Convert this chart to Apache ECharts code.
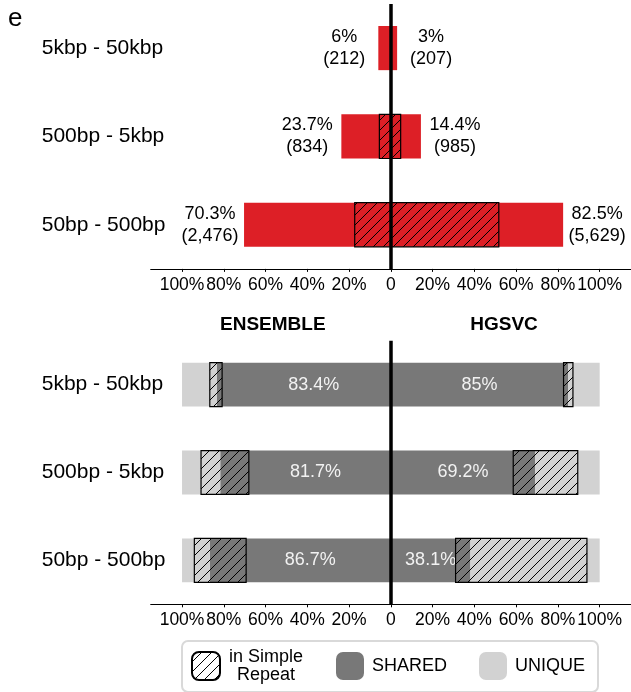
<!DOCTYPE html>
<html>
<head>
<meta charset="utf-8">
<script src="https://cdn.jsdelivr.net/npm/echarts@6/dist/echarts.min.js"></script>
<style>
  html, body { margin: 0; padding: 0; background: #fff; }
  #main { width: 631px; height: 692px; }
</style>
</head>
<body>
<div id="main"></div>
<script>
// data
var categories = ['5kbp - 50kbp', '500bp - 5kbp', '50bp - 500bp'];

// top panel: share of each size class, with counts
var ensemblePct = [6, 23.7, 70.3];
var ensembleCount = [212, 834, 2476];
var hgsvcPct = [3, 14.4, 82.5];
var hgsvcCount = [207, 985, 5629];
// part of each bar that falls in simple repeats
var ensembleRepeat = [0, 5.5, 17.3];
var hgsvcRepeat = [0, 4.7, 51.7];

// bottom panel: shared / unique, and the simple-repeat part either side of the split
var ensembleShared = [83.4, 81.7, 86.7];
var hgsvcShared = [85, 69.2, 38.1];
var ensembleRepShared = [2.6, 13.7, 17.4];
var ensembleRepUnique = [3.3, 9.2, 7.4];
var hgsvcRepShared = [2.3, 10.6, 7.1];
var hgsvcRepUnique = [2.2, 20.3, 55.8];

var tickValues = [-100, -80, -60, -40, -20, 0, 20, 40, 60, 80, 100];

var RED = '#dd1f26';
var DARK = '#787878';
var LIGHT = '#d2d2d2';
var FONT = 'Liberation Sans';

// hatch pattern ( / lines )
function makeHatch() {
    var c = document.createElement('canvas');
    c.width = 10; c.height = 10;
    var g = c.getContext('2d');
    g.strokeStyle = '#000';
    g.lineWidth = 1;
    g.beginPath();
    g.moveTo(0, 10); g.lineTo(10, 0);
    g.moveTo(-1, 1); g.lineTo(1, -1);
    g.moveTo(9, 11); g.lineTo(11, 9);
    g.stroke();
    return c;
}
var hatch = { image: makeHatch(), repeat: 'repeat' };

var chart = echarts.init(document.getElementById('main'));

function fmtNum(n) { return n.toLocaleString('en-US'); }

function xAxisCfg(gridIndex) {
    return {
        type: 'value', gridIndex: gridIndex, min: -115, max: 115,
        axisLine: { show: true, onZero: false, lineStyle: { color: '#000', width: 1 } },
        axisTick: { show: true, customValues: tickValues, length: 3, lineStyle: { color: '#000' } },
        axisLabel: {
            customValues: tickValues, margin: 7, fontSize: 17.5, color: '#000', fontFamily: FONT,
            formatter: function (v) { return v === 0 ? '0' : Math.abs(v) + '%'; }
        },
        splitLine: { show: false }
    };
}
function yAxisCfg(gridIndex) {
    return {
        type: 'category', gridIndex: gridIndex, data: categories, inverse: true,
        axisLine: { show: false }, axisTick: { show: false },
        axisLabel: { align: 'left', margin: 109, fontSize: 21, color: '#000', fontFamily: FONT }
    };
}

function hatchItem(params, api) {
    var y = api.value(0);
    var a = api.coord([api.value(1), y]);
    var b = api.coord([api.value(2), y]);
    var h = api.size([0, 1])[1] * 0.5;
    if (Math.abs(b[0] - a[0]) < 0.5) return;
    return {
        type: 'rect',
        shape: { x: Math.min(a[0], b[0]), y: a[1] - h / 2, width: Math.abs(b[0] - a[0]), height: h },
        style: { fill: hatch, stroke: '#000', lineWidth: 1.2 }
    };
}

var centerLine = {
    silent: true, symbol: 'none', label: { show: false },
    lineStyle: { color: '#000', width: 3.5, type: 'solid' },
    data: [{ xAxis: 0 }]
};

var topHatch = categories.map(function (c, i) { return [i, -ensembleRepeat[i], hgsvcRepeat[i]]; });
var botHatch = [];
categories.forEach(function (c, i) {
    botHatch.push([i, -(ensembleShared[i] + ensembleRepUnique[i]), -(ensembleShared[i] - ensembleRepShared[i])]);
    botHatch.push([i, hgsvcShared[i] - hgsvcRepShared[i], hgsvcShared[i] + hgsvcRepUnique[i]]);
});

var redLabelRich = { a: { width: 64, align: 'center', fontSize: 18, lineHeight: 22, color: '#000', fontFamily: FONT } };

var option = {
    animation: false,
    textStyle: { fontFamily: FONT },
    grid: [
        { left: 150.7, right: 0, top: 3.9, height: 265 },
        { left: 150.7, right: 0, top: 340.7, height: 263.6 }
    ],
    xAxis: [xAxisCfg(0), xAxisCfg(1)],
    yAxis: [yAxisCfg(0), yAxisCfg(1)],
    legend: {
        data: ['in Simple Repeat', 'SHARED', 'UNIQUE'],
        selectedMode: false,
        left: 182, top: 641,
        orient: 'horizontal',
        icon: 'roundRect',
        itemWidth: 28, itemHeight: 28, itemGap: 32,
        padding: [7, 13, 8, 9],
        borderColor: '#d9d9d9', borderWidth: 2, borderRadius: 6,
        textStyle: {
            fontSize: 18, color: '#000', fontFamily: FONT, padding: [0, 0, 0, 3],
            rich: { c: { width: 76, align: 'center', fontSize: 18, lineHeight: 18, color: '#000', fontFamily: FONT } }
        },
        formatter: function (name) {
            return name === 'in Simple Repeat' ? '{c|in Simple}\n{c|Repeat}' : name;
        }
    },
    graphic: [
        { type: 'text', x: 8, y: 6, style: { text: 'e', font: '26px "Liberation Sans"', fill: '#000' } },
        { type: 'text', x: 272.8, y: 315, style: { text: 'ENSEMBLE', textAlign: 'center', font: 'bold 19px "Liberation Sans"', fill: '#000' } },
        { type: 'text', x: 504, y: 315, style: { text: 'HGSVC', textAlign: 'center', font: 'bold 19px "Liberation Sans"', fill: '#000' } }
    ],
    series: [
        {
            name: 'ENSEMBLE', type: 'bar', xAxisIndex: 0, yAxisIndex: 0, stack: 'top', barWidth: '50%',
            data: ensemblePct.map(function (v) { return -v; }),
            itemStyle: { color: RED },
            label: {
                show: true, position: 'left', distance: 2, rich: redLabelRich,
                formatter: function (p) {
                    return '{a|' + ensemblePct[p.dataIndex] + '%}\n{a|(' + fmtNum(ensembleCount[p.dataIndex]) + ')}';
                }
            }
        },
        {
            name: 'HGSVC', type: 'bar', xAxisIndex: 0, yAxisIndex: 0, stack: 'top', barWidth: '50%',
            data: hgsvcPct,
            itemStyle: { color: RED },
            label: {
                show: true, position: 'right', distance: 2, rich: redLabelRich,
                formatter: function (p) {
                    return '{a|' + hgsvcPct[p.dataIndex] + '%}\n{a|(' + fmtNum(hgsvcCount[p.dataIndex]) + ')}';
                }
            }
        },
        {
            name: 'in Simple Repeat', type: 'custom', xAxisIndex: 0, yAxisIndex: 0, z: 3,
            data: topHatch, encode: { x: [1, 2], y: 0 },
            itemStyle: { color: hatch, borderColor: '#000', borderWidth: 1 },
            renderItem: hatchItem,
            markLine: centerLine
        },
        {
            name: 'SHARED', type: 'bar', xAxisIndex: 1, yAxisIndex: 1, stack: 'bot', barWidth: '50%',
            data: ensembleShared.map(function (v) { return -v; }),
            itemStyle: { color: DARK },
            label: {
                show: true, position: 'inside', offset: [10, 0], fontSize: 18, color: '#f2f2f2',
                formatter: function (p) { return ensembleShared[p.dataIndex] + '%'; }
            }
        },
        {
            name: 'UNIQUE', type: 'bar', xAxisIndex: 1, yAxisIndex: 1, stack: 'bot', barWidth: '50%',
            data: ensembleShared.map(function (v) { return -(100 - v); }),
            itemStyle: { color: LIGHT }
        },
        {
            name: 'SHARED', type: 'bar', xAxisIndex: 1, yAxisIndex: 1, stack: 'bot', barWidth: '50%',
            data: hgsvcShared,
            itemStyle: { color: DARK },
            label: {
                show: true, position: 'inside', fontSize: 18, color: '#f2f2f2',
                formatter: function (p) { return hgsvcShared[p.dataIndex] + '%'; }
            }
        },
        {
            name: 'UNIQUE', type: 'bar', xAxisIndex: 1, yAxisIndex: 1, stack: 'bot', barWidth: '50%',
            data: hgsvcShared.map(function (v) { return 100 - v; }),
            itemStyle: { color: LIGHT }
        },
        {
            name: 'in Simple Repeat', type: 'custom', xAxisIndex: 1, yAxisIndex: 1, z: 3,
            data: botHatch, encode: { x: [1, 2], y: 0 },
            itemStyle: { color: hatch, borderColor: '#000', borderWidth: 1 },
            renderItem: hatchItem,
            markLine: centerLine
        }
    ]
};

chart.setOption(option);
</script>
</body>
</html>
